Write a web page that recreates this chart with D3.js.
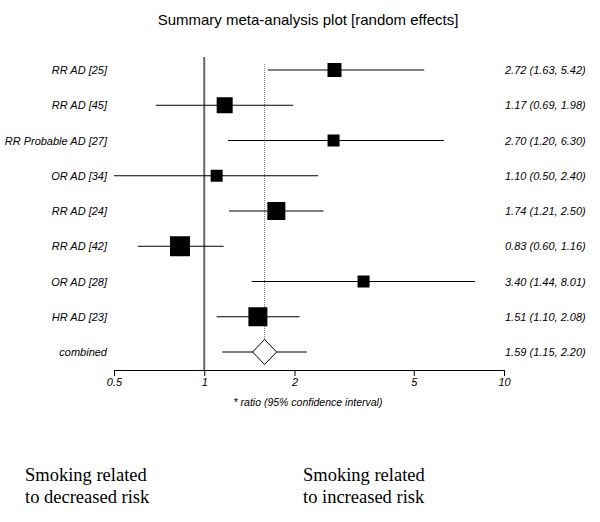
<!DOCTYPE html>
<html><head><meta charset="utf-8">
<script src="https://cdn.jsdelivr.net/npm/d3@7"></script>
<style>body{margin:0;background:#fff}svg{display:block}</style>
</head><body>
<script>
const labels = ["RR AD [25]","RR AD [45]","RR Probable AD [27]","OR AD [34]","RR AD [24]","RR AD [42]","OR AD [28]","HR AD [23]"];
const estimates = [2.72,1.17,2.70,1.10,1.74,0.83,3.40,1.51];
const lower = [1.63,0.69,1.20,0.50,1.21,0.60,1.44,1.10];
const upper = [5.42,1.98,6.30,2.40,2.50,1.16,8.01,2.08];
const weights = [14,16,12,12,18,20,12,19];
const combined = {label:"combined", est:1.59, lo:1.15, hi:2.20};
const tickValues = [0.5,1,2,5,10];

const W=600,H=522;
const svg=d3.select("body").append("svg").attr("width",W).attr("height",H);
const x=d3.scaleLog().domain([0.5,10]).range([114,504]);
const rows=[...labels, combined.label];
const y=d3.scalePoint().domain(rows).range([70,352]);
const sz=d3.scaleLinear().domain([0,20]).range([0,20]);
const fmt=d3.format(".2f");
const font="Liberation Sans, Arial, sans-serif";

svg.append("text").attr("x",308).attr("y",25).attr("text-anchor","middle")
  .attr("font-family",font).attr("font-size",15).text("Summary meta-analysis plot [random effects]");

// null line
svg.append("line").attr("x1",x(1)).attr("x2",x(1)).attr("y1",57).attr("y2",370)
  .attr("stroke","#666").attr("stroke-width",2);
// combined dotted line
svg.append("line").attr("x1",x(combined.est)).attr("x2",x(combined.est)).attr("y1",64).attr("y2",y(combined.label)-12)
  .attr("stroke","#777").attr("stroke-width",1).attr("stroke-dasharray","1,1");

const data=labels.map((l,i)=>({l,e:estimates[i],lo:lower[i],hi:upper[i],w:weights[i]}));
const g=svg.append("g");
g.selectAll("line.ci").data(data).join("line").attr("class","ci")
  .attr("x1",d=>x(d.lo)).attr("x2",d=>x(d.hi)).attr("y1",d=>y(d.l)).attr("y2",d=>y(d.l))
  .attr("stroke","#000").attr("stroke-width",1);
g.selectAll("rect").data(data).join("rect")
  .attr("x",d=>x(d.e)-sz(d.w)/2).attr("y",d=>y(d.l)-sz(d.w)/2)
  .attr("width",d=>sz(d.w)).attr("height",d=>sz(d.w)).attr("fill","#000");

// combined
const cy=y(combined.label);
svg.append("line").attr("x1",x(combined.lo)).attr("x2",x(combined.hi)).attr("y1",cy).attr("y2",cy).attr("stroke","#000");
const cx=x(combined.est);
svg.append("path").attr("d",`M${cx-12},${cy}L${cx},${cy-12.5}L${cx+12},${cy}L${cx},${cy+12.5}Z`)
  .attr("fill","#fff").attr("stroke","#000").attr("stroke-width",1);

// labels
svg.selectAll("text.lab").data(rows).join("text").attr("class","lab")
  .attr("x",107).attr("y",d=>y(d)+4).attr("text-anchor","end")
  .attr("font-family",font).attr("font-style","italic").attr("font-size",11).text(d=>d);
const right=[...data.map(d=>[d.e,d.lo,d.hi]),[combined.est,combined.lo,combined.hi]];
svg.selectAll("text.val").data(right).join("text").attr("class","val")
  .attr("x",505).attr("y",(d,i)=>y(rows[i])+4)
  .attr("font-family",font).attr("font-style","italic").attr("font-size",11)
  .text(d=>`${fmt(d[0])} (${fmt(d[1])}, ${fmt(d[2])})`);

// axis
const ax=svg.append("g").attr("transform","translate(0,370)")
  .call(d3.axisBottom(x).tickValues(tickValues).tickFormat(d3.format("")).tickSize(6).tickSizeOuter(0));
ax.select(".domain").attr("stroke","#000");
ax.selectAll(".tick line").attr("stroke","#000");
ax.selectAll("text").attr("font-family",font).attr("font-style","italic").attr("font-size",11).attr("fill","#000").attr("dy","0.6em");
svg.append("text").attr("x",308).attr("y",406).attr("text-anchor","middle")
  .attr("font-family",font).attr("font-style","italic").attr("font-size",10.5).text("* ratio (95% confidence interval)");

// bottom notes
const serif="Liberation Serif, Times New Roman, serif";
[[25,["Smoking related","to decreased risk"]],[303,["Smoking related","to increased risk"]]].forEach(([xx,lines])=>{
  lines.forEach((t,i)=>svg.append("text").attr("x",xx).attr("y",481+i*22)
    .attr("font-family",serif).attr("font-size",18.5).text(t));
});
</script>
</body></html>
